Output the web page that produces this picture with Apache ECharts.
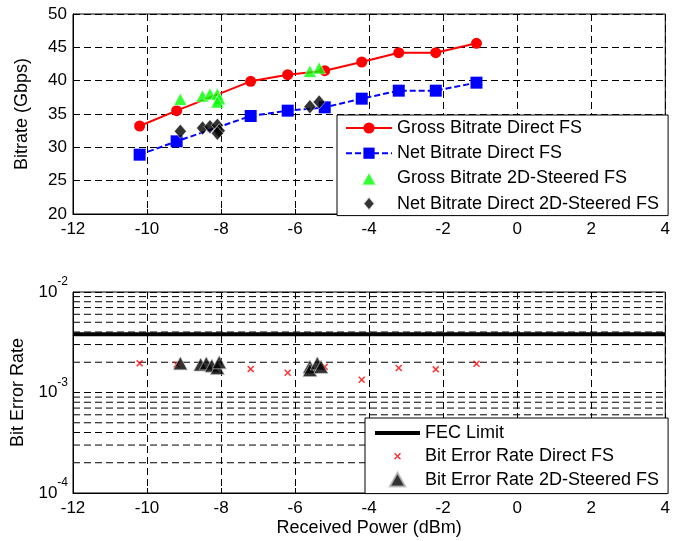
<!DOCTYPE html>
<html>
<head>
<meta charset="UTF-8">
<title>Bitrate and BER vs Received Power</title>
<script src="https://cdn.jsdelivr.net/npm/echarts@6/dist/echarts.min.js"></script>
<style>
  html, body { margin: 0; padding: 0; background: #fff; }
  #main { width: 673px; height: 541px; }
</style>
</head>
<body>
<div id="main"></div>
<script>
// received power (dBm) for the direct FS measurements
const directPower = [-10.2, -9.2, -7.2, -6.2, -5.2, -4.2, -3.2, -2.2, -1.1];
const grossDirect = [33.2, 35.5, 39.9, 40.9, 41.5, 42.8, 44.2, 44.2, 45.6];
const netDirect = [28.9, 30.9, 34.7, 35.5, 36.0, 37.3, 38.5, 38.5, 39.7];

// 2D-steered FS measurements (scattered)
const steeredPower = [-9.1, -8.5, -8.3, -8.1, -8.05, -8.1, -5.6, -5.35];
const grossSteered = [37.2, 37.7, 38.0, 38.0, 37.3, 36.8, 41.4, 41.9];
const netSteered = [32.4, 32.9, 33.1, 33.3, 32.5, 32.1, 36.1, 36.8];

// bit error rate
const berDirectPower = [-10.2, -9.2, -7.2, -6.2, -5.2, -4.2, -3.2, -2.2, -1.1];
const berDirect = [1.95e-3, 1.9e-3, 1.71e-3, 1.57e-3, 1.8e-3, 1.34e-3, 1.75e-3, 1.70e-3, 1.93e-3];
const berSteeredPower = [-9.1, -8.55, -8.4, -8.25, -8.1, -8.05, -5.6, -5.6, -5.4, -5.3];
const berSteered = [1.95e-3, 1.9e-3, 1.95e-3, 1.85e-3, 1.75e-3, 2.0e-3, 1.8e-3, 1.67e-3, 1.95e-3, 1.8e-3];

const fecLimit = 3.8e-3;
const powerRange = [-12, 4];
const berMinorGrid = [2e-4, 3e-4, 4e-4, 5e-4, 6e-4, 7e-4, 8e-4, 9e-4,
                      2e-3, 3e-3, 4e-3, 5e-3, 6e-3, 7e-3, 8e-3, 9e-3];

const font = 'Liberation Sans, Arial, sans-serif';
const dash = [7, 4];
// marker shapes (MATLAB style)
const crossPath = 'path://M0,1.5 L1.5,0 L5,3.5 L8.5,0 L10,1.5 L6.5,5 L10,8.5 L8.5,10 L5,6.5 L1.5,10 L0,8.5 L3.5,5 Z';
const triPath = 'path://M5,0 L10,9 L0,9 Z';
const diaPath = 'path://M5,0 L10,6 L5,12 L0,6 Z';
// legend icons
const crossIcon = 'path://M-5,-5 M15,15 M0,1.5 L1.5,0 L5,3.5 L8.5,0 L10,1.5 L6.5,5 L10,8.5 L8.5,10 L5,6.5 L1.5,10 L0,8.5 L3.5,5 Z';
const barIcon = 'path://M0,0 L45,0 L45,4 L0,4 Z';

const pair = (xs, ys) => xs.map((x, i) => [x, ys[i]]);

function xAxisFor(gridIndex, name) {
  return {
    type: 'value', gridIndex: gridIndex, min: -12, max: 4, interval: 2,
    name: name, nameLocation: 'middle', nameGap: 26,
    nameTextStyle: { fontFamily: font, fontSize: 18, color: '#000' },
    axisLine: { show: true, onZero: false, lineStyle: { color: '#000', width: 1 } },
    axisTick: { show: true, inside: true, length: 5, lineStyle: { color: '#000' } },
    axisLabel: { fontFamily: font, fontSize: 17, color: '#000', margin: 7 },
    splitLine: { show: true, lineStyle: { color: '#000', type: dash, width: 1 } }
  };
}

const minorGridSeries = berMinorGrid.map(v => ({
  type: 'line', xAxisIndex: 1, yAxisIndex: 1, silent: true,
  data: powerRange.map(x => [x, v]),
  symbol: 'none', z: 1,
  lineStyle: { color: '#000', type: dash, width: 1 }
}));

const chart = echarts.init(document.getElementById('main'), null, { renderer: 'canvas' });
chart.setOption({
  animation: false,
  backgroundColor: '#fff',
  grid: [
    { left: 73, right: 4, top: 14, height: 200, show: true, borderColor: '#000', borderWidth: 1, backgroundColor: '#fff' },
    { left: 73, right: 4, top: 292, height: 201, show: true, borderColor: '#000', borderWidth: 1, backgroundColor: '#fff' }
  ],
  xAxis: [xAxisFor(0, ''), xAxisFor(1, 'Received Power (dBm)')],
  yAxis: [
    {
      type: 'value', gridIndex: 0, min: 20, max: 50, interval: 5,
      name: 'Bitrate (Gbps)', nameLocation: 'middle', nameGap: 42,
      nameTextStyle: { fontFamily: font, fontSize: 18, color: '#000' },
      axisLine: { show: true, onZero: false, lineStyle: { color: '#000' } },
      axisTick: { show: true, inside: true, length: 5, lineStyle: { color: '#000' } },
      axisLabel: { fontFamily: font, fontSize: 17, color: '#000', margin: 6 },
      splitLine: { show: true, lineStyle: { color: '#000', type: dash, width: 1 } }
    },
    {
      type: 'log', logBase: 10, gridIndex: 1, min: 1e-4, max: 1e-2, interval: 1,
      name: 'Bit Error Rate', nameLocation: 'middle', nameGap: 42,
      nameTextStyle: { fontFamily: font, fontSize: 18, color: '#000' },
      axisLine: { show: true, onZero: false, lineStyle: { color: '#000' } },
      axisTick: { show: true, inside: true, length: 5, lineStyle: { color: '#000' } },
      axisLabel: {
        margin: 5,
        formatter: function (v) {
          return '{b|10}{s|' + Math.round(Math.log10(v)) + '}';
        },
        rich: {
          b: { fontFamily: font, fontSize: 17, color: '#000' },
          s: { fontFamily: font, fontSize: 12, color: '#000', padding: [0, 0, 20, 0] }
        }
      },
      splitLine: { show: true, lineStyle: { color: '#000', type: dash, width: 1 } }
    }
  ],
  legend: [
    {
      orient: 'vertical', left: 337, top: 115,
      backgroundColor: '#fff', borderColor: '#000', borderWidth: 1,
      padding: [4, 9, 3, 8], itemWidth: 46, itemHeight: 14, itemGap: 7.2,
      textStyle: { fontFamily: font, fontSize: 18, color: '#000', lineHeight: 18 },
      data: [
        { name: 'Gross Bitrate Direct FS' },
        { name: 'Net Bitrate Direct FS' },
        { name: 'Gross Bitrate 2D-Steered FS', icon: triPath },
        { name: 'Net Bitrate Direct 2D-Steered FS', icon: diaPath }
      ]
    },
    {
      orient: 'vertical', left: 365, top: 418,
      backgroundColor: '#fff', borderColor: '#000', borderWidth: 1,
      padding: [6, 9, 5, 10], itemWidth: 45, itemHeight: 14, itemGap: 5.3,
      textStyle: { fontFamily: font, fontSize: 18, color: '#000', lineHeight: 18 },
      data: [
        { name: 'FEC Limit', icon: barIcon },
        { name: 'Bit Error Rate Direct FS', icon: crossIcon },
        { name: 'Bit Error Rate 2D-Steered FS', icon: triPath }
      ]
    }
  ],
  series: minorGridSeries.concat([
    {
      name: 'Gross Bitrate Direct FS', type: 'line', xAxisIndex: 0, yAxisIndex: 0,
      data: pair(directPower, grossDirect),
      symbol: 'circle', symbolSize: 11,
      lineStyle: { color: '#ff0000', width: 2 },
      itemStyle: { color: '#ff0000' }, z: 3
    },
    {
      name: 'Net Bitrate Direct FS', type: 'line', xAxisIndex: 0, yAxisIndex: 0,
      data: pair(directPower, netDirect),
      symbol: 'rect', symbolSize: 12,
      lineStyle: { color: '#0000ff', width: 2, type: [6, 3] },
      itemStyle: { color: '#0000ff' }, z: 3
    },
    {
      name: 'Gross Bitrate 2D-Steered FS', type: 'scatter', xAxisIndex: 0, yAxisIndex: 0,
      data: pair(steeredPower, grossSteered),
      symbol: triPath, symbolSize: [13, 12],
      itemStyle: { color: '#00ff00', borderColor: '#ffffff', borderWidth: 0.6 }, z: 4
    },
    {
      name: 'Net Bitrate Direct 2D-Steered FS', type: 'scatter', xAxisIndex: 0, yAxisIndex: 0,
      data: pair(steeredPower, netSteered),
      symbol: diaPath, symbolSize: [12, 14],
      itemStyle: { color: '#000000', borderColor: '#ffffff', borderWidth: 0.6 }, z: 4
    },
    {
      name: 'FEC Limit', type: 'line', xAxisIndex: 1, yAxisIndex: 1,
      data: powerRange.map(x => [x, fecLimit]),
      symbol: 'none', lineStyle: { color: '#000', width: 4 },
      itemStyle: { color: '#000' }, z: 3
    },
    {
      name: 'Bit Error Rate Direct FS', type: 'scatter', xAxisIndex: 1, yAxisIndex: 1,
      data: pair(berDirectPower, berDirect),
      symbol: crossPath, symbolSize: 7,
      itemStyle: { color: '#ff0000' }, z: 3
    },
    {
      name: 'Bit Error Rate 2D-Steered FS', type: 'scatter', xAxisIndex: 1, yAxisIndex: 1,
      data: pair(berSteeredPower, berSteered),
      symbol: triPath, symbolSize: [14, 13],
      itemStyle: { color: '#000000', borderColor: '#bbbbbb', borderWidth: 0.8 }, z: 4
    }
  ])
});
</script>
</body>
</html>
